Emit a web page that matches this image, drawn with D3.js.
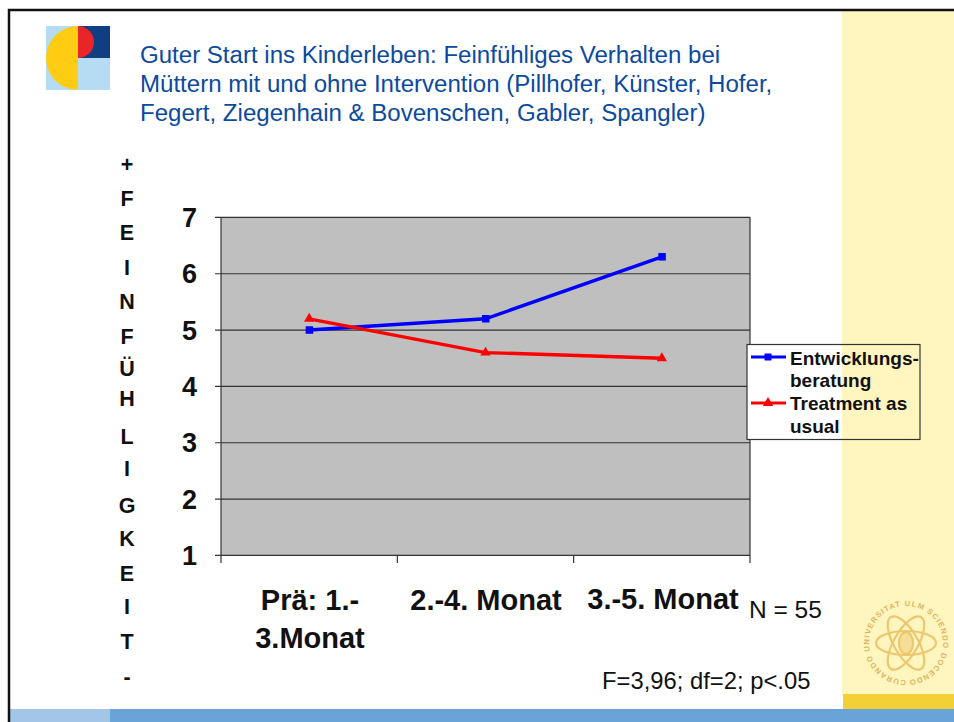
<!DOCTYPE html>
<html><head><meta charset="utf-8">
<script src="https://cdn.jsdelivr.net/npm/d3@7/dist/d3.min.js"></script>
<style>html,body{margin:0;padding:0;background:#fff}svg{display:block}text{font-family:"Liberation Sans",Arial,sans-serif}</style>
</head><body><svg id="c" width="954" height="722"></svg>
<script>
const categories = ["Prä: 1.-|3.Monat", "2.-4. Monat", "3.-5. Monat"];
const entwicklung = [5.0, 5.2, 6.3];
const treatment = [5.2, 4.6, 4.5];
const yTicks = [1, 2, 3, 4, 5, 6, 7];
const titleLines = ["Guter Start ins Kinderleben: Feinfühliges Verhalten bei", "Müttern mit und ohne Intervention (Pillhofer, Künster, Hofer,", "Fegert, Ziegenhain & Bovenschen, Gabler, Spangler)"];
const yLetters = ["+","F","E","I","N","F","Ü","H","L","I","G","K","E","I","T","-"];
const yLetterPos = [172,206,240,275,309,344,376,406,444,476,513,546,581,614,649,684];
const legendLines = ["Entwicklungs-","beratung","Treatment as","usual"];

const svg = d3.select("#c");
// slide frame
svg.append("rect").attr("width",954).attr("height",722).attr("fill","#fff");
svg.append("rect").attr("x",842).attr("y",10).attr("width",112).attr("height",685).attr("fill","#FFF5BE");
svg.append("rect").attr("x",843).attr("y",694).attr("width",111).attr("height",16).attr("fill","#F4D038");
svg.append("rect").attr("x",9).attr("y",709).attr("width",101).attr("height",13).attr("fill","#A3C6E6");
svg.append("rect").attr("x",110).attr("y",709).attr("width",844).attr("height",13).attr("fill","#69A3D7");
svg.append("path").attr("d","M9 722V10H954").attr("fill","none").attr("stroke","#111").attr("stroke-width",2.5);

// logo
const logo = svg.append("g").attr("transform","translate(46,26)");
logo.append("rect").attr("width",64).attr("height",64).attr("fill","#B5DCF2");
logo.append("rect").attr("x",32).attr("width",32).attr("height",32).attr("fill","#0F3F82");
logo.append("path").attr("d",d3.arc()({innerRadius:0,outerRadius:32,startAngle:Math.PI,endAngle:2*Math.PI})).attr("transform","translate(32,32)").attr("fill","#FFCC14");
logo.append("path").attr("d",d3.arc()({innerRadius:0,outerRadius:16,startAngle:0,endAngle:Math.PI})).attr("transform","translate(32,16)").attr("fill","#E8262A");

// title
svg.append("g").selectAll("text").data(titleLines).join("text")
  .attr("x",140).attr("y",(d,i)=>63+i*29).attr("font-size",24.05).attr("fill","#0B4A9E").text(d=>d);

// plot
const margin = {l:221,r:750,t:217,b:555};
const y = d3.scaleLinear().domain([1,7]).range([margin.b,margin.t]);
const x = d3.scalePoint().domain(categories).range([margin.l,margin.r]).padding(0.5);
const xb = d3.scaleBand().domain(categories).range([margin.l,margin.r]);
svg.append("rect").attr("x",margin.l).attr("y",margin.t).attr("width",margin.r-margin.l).attr("height",margin.b-margin.t).attr("fill","#BFBFBF");
svg.append("g").selectAll("line").data(yTicks).join("line")
  .attr("x1",margin.l-6).attr("x2",margin.r).attr("y1",d=>y(d)+.4).attr("y2",d=>y(d)+.4).attr("stroke","#333").attr("stroke-width",1.2);
svg.append("line").attr("x1",margin.l).attr("x2",margin.l).attr("y1",margin.t).attr("y2",margin.b).attr("stroke","#333").attr("stroke-width",1.2);
svg.append("line").attr("x1",margin.r).attr("x2",margin.r).attr("y1",margin.t).attr("y2",margin.b).attr("stroke","#333").attr("stroke-width",1.2);
const xt = [...categories.map(c=>xb(c)), margin.r];
svg.append("g").selectAll("line").data(xt).join("line")
  .attr("x1",d=>d).attr("x2",d=>d).attr("y1",margin.b).attr("y2",margin.b+8).attr("stroke","#333").attr("stroke-width",1.2);
svg.append("g").selectAll("text").data(yTicks).join("text")
  .attr("x",197).attr("y",d=>y(d)+10).attr("text-anchor","end").attr("font-size",27).attr("font-weight","bold").attr("fill","#111").text(d=>d);

const line = d3.line().x((d,i)=>x(categories[i])).y(d=>y(d)+.4);
svg.append("path").attr("d",line(entwicklung)).attr("fill","none").attr("stroke","#0000FF").attr("stroke-width",3.4);
svg.append("g").selectAll("rect").data(entwicklung).join("rect")
  .attr("x",(d,i)=>x(categories[i])-3.5).attr("y",d=>y(d)-3.4).attr("width",7.5).attr("height",7.5).attr("fill","#0000FF");
svg.append("path").attr("d",line(treatment)).attr("fill","none").attr("stroke","#FF0000").attr("stroke-width",3.4);
const tri = d3.symbol().type(d3.symbolTriangle).size(46);
svg.append("g").selectAll("path").data(treatment).join("path")
  .attr("d",tri).attr("transform",(d,i)=>`translate(${x(categories[i])},${y(d)+.4})`).attr("fill","#FF0000");

// category labels
const catX = [310,486,663], catY = [610,610,609];
categories.forEach((c,i)=>{
  c.split("|").forEach((t,j)=>svg.append("text").attr("x",catX[i]).attr("y",catY[i]+j*38)
    .attr("text-anchor","middle").attr("font-size",29).attr("font-weight","bold").attr("fill","#111").text(t));
});

// vertical word
svg.append("g").selectAll("text").data(yLetters).join("text")
  .attr("x",127).attr("y",(d,i)=>yLetterPos[i]).attr("text-anchor","middle")
  .attr("font-size",21.5).attr("font-weight","bold").attr("fill","#111").text(d=>d);

// notes
svg.append("text").attr("x",749).attr("y",618).attr("font-size",24.5).attr("fill","#111").text("N = 55");
svg.append("text").attr("x",602).attr("y",689).attr("font-size",23.8).attr("fill","#111").text("F=3,96; df=2; p<.05");

// legend: white over the plot, the yellow band shows through on the right
svg.append("rect").attr("x",747).attr("y",344.5).attr("width",95).attr("height",95).attr("fill","#fff");
svg.append("rect").attr("x",747).attr("y",344.5).attr("width",173).attr("height",95).attr("fill","none").attr("stroke","#333").attr("stroke-width",1.2);
svg.append("g").selectAll("text").data(legendLines).join("text").attr("x",790).attr("y",(d,i)=>364.5+i*22.8)
  .attr("font-size",19).attr("font-weight","bold").attr("fill","#111").text(d=>d);
svg.append("line").attr("x1",751).attr("x2",786).attr("y1",357).attr("y2",357).attr("stroke","#00f").attr("stroke-width",3);
svg.append("rect").attr("x",764.5).attr("y",353.5).attr("width",7).attr("height",7).attr("fill","#00f");
svg.append("line").attr("x1",751).attr("x2",786).attr("y1",403).attr("y2",403).attr("stroke","#f00").attr("stroke-width",3);
svg.append("path").attr("d",tri).attr("transform","translate(768,403)").attr("fill","#f00");

// seal
const seal = svg.append("g").attr("transform","translate(906,643)").attr("fill","none").attr("stroke","#EBC770").attr("stroke-width",2.2);
[0,60,120].forEach(a=>seal.append("ellipse").attr("rx",30).attr("ry",12).attr("transform",`rotate(${a})`));
seal.append("ellipse").attr("rx",7).attr("ry",11).attr("fill","#EBC770").attr("fill-opacity",.5);
const defs = svg.append("defs");
defs.append("path").attr("id","sealRing").attr("d","M0 37A37 37 0 1 1 0 -37A37 37 0 1 1 0 37");
seal.append("text").attr("font-size",7.6).attr("font-weight","bold").attr("fill","#DDB45E").attr("stroke","none").attr("letter-spacing",1.1)
  .append("textPath").attr("href","#sealRing").text("  CURANDO  UNIVERSITAT ULM  SCIENDO  DOCENDO");
</script></body></html>
